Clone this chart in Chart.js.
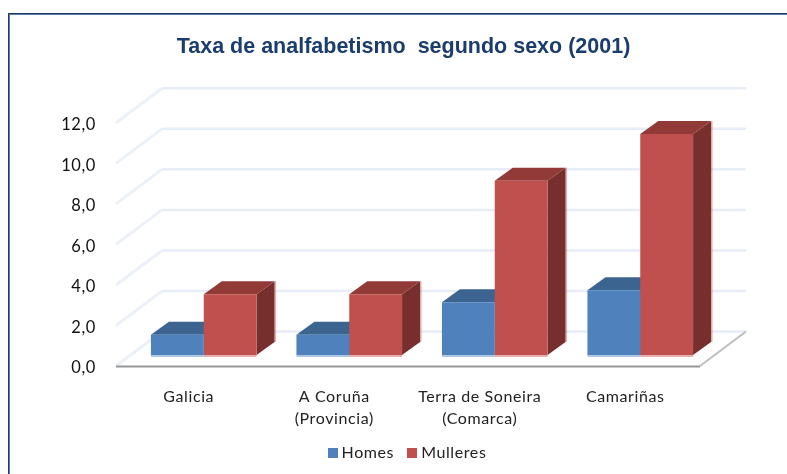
<!DOCTYPE html>
<html><head><meta charset="utf-8">
<style>html,body{margin:0;padding:0;background:#fff}#w{width:787px;height:474px;position:relative;overflow:hidden}</style>
<script src="https://cdn.jsdelivr.net/npm/chart.js@4"></script></head>
<body><div id="w"><canvas id="c" width="787" height="474"></canvas></div>
<script>
const categories = [["Galicia"],["A Coruña","(Provincia)"],["Terra de Soneira","(Comarca)"],["Camariñas"]];
const homes = [1.0,1.0,2.6,3.2];
const mulleres = [3.0,3.0,8.6,10.9];
const yTicks = [0,2,4,6,8,10,12];
const titleText = "Taxa de analfabetismo  segundo sexo (2001)";

const WALL = {dx:46, dy:-34.5}, SHIFT = {dx:15, dy:-11}, DEPTH = {dx:18, dy:-13}, FLOOR_EXT = 2;
const FRONTS = ["#4F81BD","#C0504D"];
const FACES = [{top:"#3B6491",side:"#30527A",halo:"rgba(79,129,189,.45)"},
               {top:"#913A37",side:"#772F2D",halo:"rgba(192,80,77,.45)"}];
const SPACED = "0.6px";

function swatch(color){
  const s=document.createElement("canvas");s.width=10;s.height=10;
  const g=s.getContext("2d");g.fillStyle=color;g.fillRect(0,0,10,10);
  return s;
}

const threeD = {
  id:"threeD",
  beforeLayout(chart){ chart.ctx.letterSpacing=SPACED; },
  afterLayout(chart){
    const lg=chart.legend;
    lg.left += 60; lg.right += 60; lg.top -= 3; lg.bottom -= 3;
    const tb=chart.titleBlock;
    tb.left += 54.5; tb.right += 54.5;
    if(!tb._plain){
      tb._plain=true;
      const d=tb.draw;
      tb.draw=function(){ const c=chart.ctx; c.save(); c.letterSpacing="0px"; d.call(this); c.restore(); };
    }
  },
  beforeDraw(chart){
    const {ctx,width,height}=chart;
    ctx.letterSpacing=SPACED;
    ctx.save();
    ctx.fillStyle="#fff";ctx.fillRect(0,0,width,height);
    ctx.fillStyle="#1F3A63";ctx.fillRect(8,13,width-8,1);ctx.fillRect(8,13,1,height-13);
    ctx.fillStyle="#5B7CA6";ctx.fillRect(9,14,width-9,1);ctx.fillRect(9,14,1,height-14);
    ctx.restore();
  },
  beforeDatasetsDraw(chart){
    const {ctx,chartArea:a,scales:{y}}=chart;
    const R=a.right+FLOOR_EXT;
    ctx.save();
    ctx.lineWidth=2.5;ctx.strokeStyle="#E6EDF6";
    yTicks.forEach(v=>{
      const p=y.getPixelForValue(v);
      ctx.beginPath();ctx.moveTo(a.left+WALL.dx,p+WALL.dy);ctx.lineTo(R+WALL.dx,p+WALL.dy);ctx.stroke();
    });
    ctx.lineWidth=3;ctx.strokeStyle="#ECF1F8";
    yTicks.forEach(v=>{
      const p=y.getPixelForValue(v);
      ctx.beginPath();ctx.moveTo(a.left,p);ctx.lineTo(a.left+WALL.dx,p+WALL.dy);ctx.stroke();
    });
    const p0=y.getPixelForValue(0);
    ctx.lineWidth=2;
    ctx.strokeStyle="#BEBEBE";
    ctx.beginPath();ctx.moveTo(R,p0);ctx.lineTo(R+WALL.dx,p0+WALL.dy);ctx.stroke();
    ctx.strokeStyle="#969696";
    ctx.beginPath();ctx.moveTo(a.left,p0+.5);ctx.lineTo(R,p0+.5);ctx.stroke();
    ctx.translate(SHIFT.dx,SHIFT.dy);
    [0,1].forEach(i=>{
      chart.getDatasetMeta(i).data.forEach(b=>{
        const {x,y:t,base,width:w}=b.getProps(["x","y","base","width"],true);
        const l=x-w/2,r=x+w/2;
        ctx.fillStyle=FACES[i].side;
        ctx.beginPath();ctx.moveTo(r,t);ctx.lineTo(r+DEPTH.dx,t+DEPTH.dy);ctx.lineTo(r+DEPTH.dx,base+DEPTH.dy);ctx.lineTo(r,base);ctx.closePath();ctx.fill();
        ctx.fillStyle=FACES[i].top;
        ctx.beginPath();ctx.moveTo(l,t);ctx.lineTo(l+DEPTH.dx,t+DEPTH.dy);ctx.lineTo(r+DEPTH.dx,t+DEPTH.dy);ctx.lineTo(r,t);ctx.closePath();ctx.fill();
        ctx.fillStyle=FACES[i].halo;
        ctx.fillRect(l,base,w,2);
        if(i===1) ctx.fillRect(r+DEPTH.dx,t+DEPTH.dy,1.5,base-t);
      });
    });
    ctx.restore();
  },
  beforeDatasetDraw(chart){ chart.ctx.save(); chart.ctx.translate(SHIFT.dx,SHIFT.dy); },
  afterDatasetDraw(chart){ chart.ctx.restore(); }
};

new Chart(document.getElementById("c"),{
  type:"bar",
  data:{labels:categories,datasets:[
    {label:"Homes",data:homes,backgroundColor:FRONTS[0],borderWidth:0,categoryPercentage:.726,barPercentage:1},
    {label:"Mulleres",data:mulleres,backgroundColor:FRONTS[1],borderWidth:0,categoryPercentage:.726,barPercentage:1}
  ]},
  plugins:[threeD],
  options:{
    responsive:false,animation:false,
    layout:{padding:{left:0,right:89,top:0,bottom:0}},
    plugins:{
      title:{display:true,text:titleText,color:"#1B3D6D",font:{family:"Liberation Sans",size:21.5,weight:"bold"},padding:{top:34,bottom:63}},
      legend:{position:"bottom",labels:{
        usePointStyle:true,pointStyleWidth:2,boxHeight:10,padding:17,color:"#222",font:{family:"Lato",size:16},
        generateLabels(chart){
          return Chart.defaults.plugins.legend.labels.generateLabels(chart).map((it,i)=>({...it,pointStyle:swatch(FRONTS[i])}));
        }
      }},
      tooltip:{enabled:false}
    },
    scales:{
      x:{grid:{display:false},border:{display:false},afterFit(s){s.height=65;},
         ticks:{color:"#222",font:{family:"Lato",size:16,lineHeight:1.38},maxRotation:0,padding:12}},
      y:{min:0,max:12,afterFit(s){s.width=116;},
         afterBuildTicks(s){s.ticks=yTicks.map(v=>({value:v}));},
         grid:{display:false},border:{display:false},
         ticks:{color:"#111",font:{family:"Lato",size:16.5},padding:12,labelOffset:2,callback:v=>v.toFixed(1).replace(".",",")}}
    }
  }
});
</script></body></html>
